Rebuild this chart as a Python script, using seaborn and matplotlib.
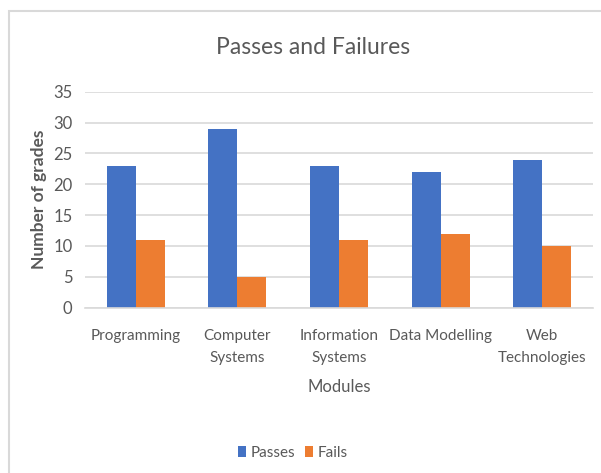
import matplotlib
matplotlib.use("Agg")
import matplotlib.pyplot as plt
import seaborn as sns
import pandas as pd
from matplotlib.patches import Rectangle, Patch

modules = ["Programming", "Computer\nSystems", "Information\nSystems", "Data Modelling", "Web\nTechnologies"]
passes = [23, 29, 23, 22, 24]
fails = [11, 5, 11, 12, 10]
series = ["Passes", "Fails"]
colors = ["#4472C4", "#ED7D31"]
yticks = [0, 5, 10, 15, 20, 25, 30, 35]

df = pd.DataFrame({
    "Module": modules * 2,
    "Result": [series[0]] * len(modules) + [series[1]] * len(modules),
    "Grades": passes + fails,
})

sns.set_theme(style="white")
plt.rcParams["font.family"] = ["Lato", "DejaVu Sans"]
text_col = "#595959"

fig = plt.figure(figsize=(6.01, 4.73), dpi=100)
ax = fig.add_axes([85/601, 1 - 307.7/473, (593-85)/601, (307.7-91.7)/473])

sns.barplot(data=df, x="Module", y="Grades", hue="Result", order=modules,
            hue_order=series, palette=colors, width=0.57, gap=0,
            saturation=1, ax=ax, legend=False, linewidth=0)

ax.set_ylim(0, 35)
ax.set_yticks(yticks)
ax.yaxis.grid(True, color="#D9D9D9", linewidth=1.2)
ax.set_axisbelow(True)
for s in ["top", "right", "left"]:
    ax.spines[s].set_visible(False)
ax.spines["bottom"].set_color("#D9D9D9")
ax.spines["bottom"].set_linewidth(1.2)
ax.tick_params(axis="both", length=0, colors=text_col)
ax.tick_params(axis="x", pad=15, labelsize=11)
ax.tick_params(axis="y", pad=9, labelsize=12)
for lbl in ax.get_xticklabels():
    lbl.set_linespacing(1.75)

ax.set_xlabel("Modules", color=text_col, fontsize=12, labelpad=10)
ax.set_ylabel("Number of grades", color=text_col, fontsize=12.5, fontweight="bold")
ax.yaxis.set_label_coords(-0.075, 0.5)
fig.text(313/601, 1 - 47/473, "Passes and Failures", ha="center", va="center",
         fontsize=16.5, color=text_col)

handles = [Patch(facecolor=c, edgecolor="none") for c in colors]
fig.legend(handles, series, loc="center", bbox_to_anchor=(293/601, 1 - 453/473),
           ncol=2, frameon=False, fontsize=11, labelcolor=text_col,
           handlelength=0.55, handleheight=0.75, handletextpad=0.3, columnspacing=0.6)

fig.patches.append(Rectangle((9/601, -0.05), 1.1, 1 - 11/473 + 0.05, transform=fig.transFigure,
                             fill=False, edgecolor="#D9D9D9", linewidth=1.5))

fig.savefig("out.png", dpi=100)
